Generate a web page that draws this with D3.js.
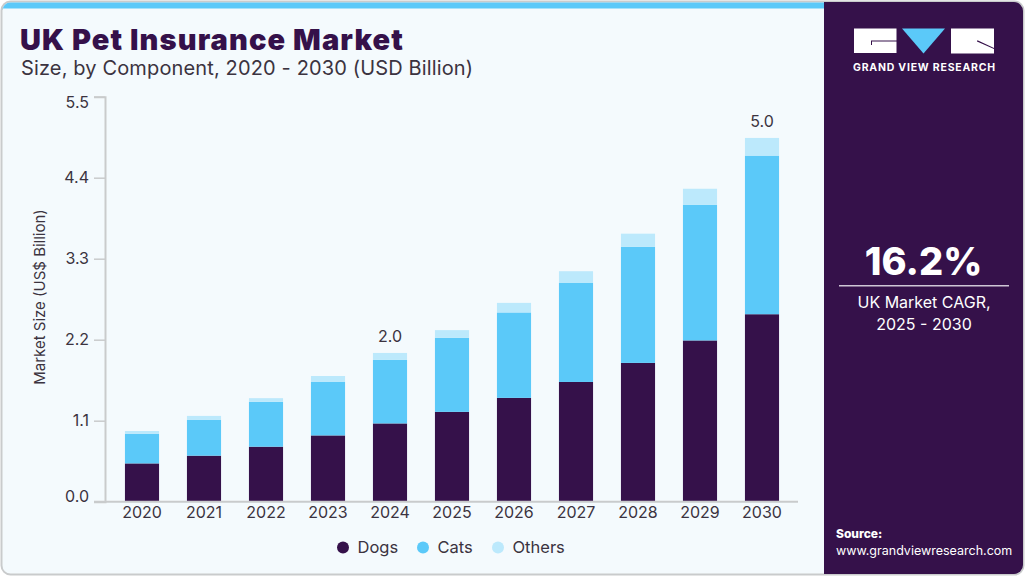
<!DOCTYPE html>
<html>
<head>
<meta charset="utf-8">
<script src="https://cdn.jsdelivr.net/npm/d3@7"></script>
<style>
  html, body { margin: 0; padding: 0; background: #fff; }
  svg { display: block; }
  text { font-family: Inter, "Liberation Sans", sans-serif; fill: #3b3340; }
</style>
</head>
<body>
<svg id="chart" width="1025" height="576"></svg>
<script>
const YEARS = ['2020','2021','2022','2023','2024','2025','2026','2027','2028','2029','2030'];
const DOGS = [0.52, 0.625, 0.747, 0.90, 1.063, 1.22, 1.41, 1.626, 1.885, 2.19, 2.546];
const CATS = [0.40, 0.485, 0.608, 0.726, 0.862, 1.004, 1.16, 1.344, 1.575, 1.84, 2.154];
const OTHERS = [0.04, 0.055, 0.051, 0.081, 0.095, 0.106, 0.13, 0.16, 0.18, 0.22, 0.24];
const Y_TICKS = [0, 1.1, 2.2, 3.3, 4.4, 5.5];
const TOTAL_LABELS = { '2024': '2.0', '2030': '5.0' };
const SERIES = ['Dogs', 'Cats', 'Others'];
const COLORS = ['#35114a', '#5bc9f9', '#bce9fc'];
const PURPLE = '#35114a';

const svg = d3.select('#chart');

// frame and right panel
svg.append('rect').attr('x', 1.5).attr('y', 1.5).attr('width', 1022).attr('height', 573).attr('rx', 9)
  .attr('fill', '#f4fafd').attr('stroke', '#c9cbcc').attr('stroke-width', 2);
svg.append('path').attr('d', 'M2.5,8.5V10.5A8,8 0 0 1 10.5,2.5H825V8.5Z').attr('fill', '#5bc9f9');
svg.append('path').attr('d', 'M824,2H1014A9,9 0 0 1 1023,11V565A9,9 0 0 1 1014,574H824Z').attr('fill', PURPLE);

const x = d3.scaleBand().domain(YEARS).range([111, 793]).paddingInner(0.45).paddingOuter(0.225);
const y = d3.scaleLinear().domain([0, 5.5]).range([501.7, 96.7]);

const rows = YEARS.map((year, i) => ({ year, Dogs: DOGS[i], Cats: CATS[i], Others: OTHERS[i] }));
const stacked = d3.stack().keys(SERIES)(rows);

svg.append('g').selectAll('g').data(stacked).join('g')
  .attr('fill', (d, i) => COLORS[i])
  .selectAll('rect').data(d => d).join('rect')
  .attr('x', d => x(d.data.year))
  .attr('width', x.bandwidth())
  .attr('y', d => y(d[1]))
  .attr('height', d => y(d[0]) - y(d[1]));

// axes
const yAxis = svg.append('g').attr('transform', 'translate(105,0)')
  .call(d3.axisLeft(y).tickValues(Y_TICKS).tickFormat(d3.format('.1f')).tickSize(11).tickPadding(5));
yAxis.select('.domain').attr('stroke', '#c9cbcc').attr('stroke-width', 2);
yAxis.selectAll('.tick line').attr('stroke', '#c9cbcc').attr('stroke-width', 1.5);
yAxis.selectAll('.tick text')
  .attr('font-family', 'Inter').attr('font-size', 16).style('fill', '#3b3340')
  .attr('dy', d => d === 5.5 ? '0.68em' : d === 0 ? '-0.04em' : '0.3em');

const xAxis = svg.append('g').attr('transform', 'translate(0,501.7)')
  .call(d3.axisBottom(x).tickSize(0).tickPadding(5));
xAxis.select('.domain').attr('d', 'M94,0H798').attr('stroke', '#c9cbcc').attr('stroke-width', 2);
xAxis.selectAll('.tick text').attr('font-family', 'Inter').attr('font-size', 16).style('fill', '#3b3340');

svg.append('text').attr('transform', 'translate(45,297) rotate(-90)')
  .attr('text-anchor', 'middle').attr('font-size', 15).text('Market Size (US$ Billion)');

// total labels
svg.append('g').selectAll('text').data(rows.filter(r => TOTAL_LABELS[r.year])).join('text')
  .attr('x', d => x(d.year) + x.bandwidth() / 2)
  .attr('y', d => y(d.Dogs + d.Cats + d.Others) - 11)
  .attr('text-anchor', 'middle').attr('font-size', 16)
  .text(d => TOTAL_LABELS[d.year]);

// legend
const legendX = d3.scaleOrdinal().domain(SERIES).range([343, 423, 498]);
const legend = svg.append('g').selectAll('g').data(SERIES).join('g')
  .attr('transform', d => `translate(${legendX(d)},547.5)`);
legend.append('circle').attr('r', 6).attr('fill', (d, i) => COLORS[i]);
legend.append('text').attr('x', 14.5).attr('y', 5.5).attr('font-size', 16.5).text(d => d);

// titles
svg.append('text').attr('x', 20).attr('y', 50).attr('font-size', 29).attr('font-weight', 900)
  .attr('letter-spacing', 1.1).style('fill', PURPLE).text('UK Pet Insurance Market');
svg.append('text').attr('x', 21).attr('y', 75).attr('font-size', 20).attr('letter-spacing', 0.14)
  .text('Size, by Component, 2020 - 2030 (USD Billion)');

// logo
const logo = svg.append('g');
logo.append('path').attr('d', 'M854,28.5H896.5V53H854ZM872,45V41.5H896.5V40.5H871V45Z').attr('fill', '#fff').attr('fill-rule', 'evenodd');
logo.append('path').attr('d', 'M902,28.5H945L923.5,53.5Z').attr('fill', '#5bc9f9');
logo.append('path').attr('d', 'M951,28.5H994V48L978,40.5H977V41.5L994,49V53.5H951Z').attr('fill', '#fff');
svg.append('text').attr('x', 853).attr('y', 71).attr('font-size', 10.5).attr('font-weight', 700)
  .attr('letter-spacing', 0.78).style('fill', '#fff').text('GRAND VIEW RESEARCH');

// CAGR block
svg.append('text').attr('x', 923.5).attr('y', 275).attr('text-anchor', 'middle').attr('font-size', 38).attr('font-weight', 800)
  .style('fill', '#fff').text('16.2%');
svg.append('rect').attr('x', 839).attr('y', 285).attr('width', 170).attr('height', 1.5).attr('fill', '#cfc6d6');
svg.append('text').attr('x', 924).attr('y', 308).attr('text-anchor', 'middle').attr('font-size', 16).style('fill', '#fff').text('UK Market CAGR,');
svg.append('text').attr('x', 924).attr('y', 330).attr('text-anchor', 'middle').attr('font-size', 16).style('fill', '#fff').text('2025 - 2030');

// source
svg.append('text').attr('x', 836).attr('y', 538).attr('font-size', 12).attr('font-weight', 800).style('fill', '#fff').text('Source:');
svg.append('text').attr('x', 836).attr('y', 555).attr('font-size', 12.5).style('fill', '#fff').text('www.grandviewresearch.com');
</script>
</body>
</html>
